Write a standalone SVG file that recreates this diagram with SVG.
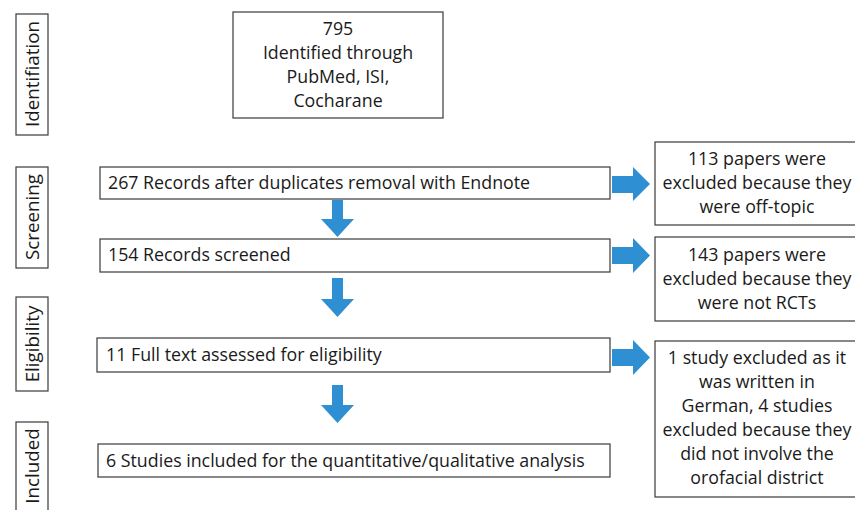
<svg xmlns="http://www.w3.org/2000/svg" width="855" height="510" viewBox="0 0 855 510">
<style>
.box{fill:#fff;stroke:#3a3a3a;stroke-width:1.2}
.t{font-family:"Open Sans","Liberation Sans",sans-serif;font-size:17.8px;fill:#1a1a1a}
.v{font-size:18.8px}
.c{text-anchor:middle}
.arr{fill:#2f8fd3}
</style>
<rect width="855" height="510" fill="#fff"/>
<g id="stage-identification"><rect class="box" x="16" y="14" width="32" height="121"/><text class="t v c" transform="translate(39,74) rotate(-90)">Identifiation</text></g>
<g id="stage-screening"><rect class="box" x="16" y="167" width="32" height="101"/><text class="t v c" transform="translate(39,217) rotate(-90)">Screening</text></g>
<g id="stage-eligibility"><rect class="box" x="16" y="297" width="32" height="94"/><text class="t v c" transform="translate(39,344) rotate(-90)">Eligibility</text></g>
<g id="stage-included"><rect class="box" x="16" y="422" width="32" height="100"/><text class="t v c" transform="translate(39,466) rotate(-90)">Included</text></g>

<g id="n795"><rect class="box" x="233" y="12" width="210" height="106"/>
<text class="t c" x="338" y="35">795</text>
<text class="t c" x="338" y="59">Identified through</text>
<text class="t c" x="338" y="83">PubMed, ISI,</text>
<text class="t c" x="338" y="107">Cocharane</text></g>

<g id="n267"><rect class="box" x="100" y="167" width="510" height="32"/><text class="t" x="108" y="189">267 Records after duplicates removal with Endnote</text></g>
<g id="n154"><rect class="box" x="100" y="239" width="510" height="33"/><text class="t" x="108" y="261">154 Records screened</text></g>
<g id="n11"><rect class="box" x="97" y="338" width="513" height="34"/><text class="t" x="106" y="361">11 Full text assessed for eligibility</text></g>
<g id="n6"><rect class="box" x="98" y="444" width="512" height="33"/><text class="t" x="106" y="467">6 Studies included for the quantitative/qualitative analysis</text></g>

<g id="x113"><rect class="box" x="655" y="142" width="205" height="83"/>
<text class="t c" x="757" y="165">113 papers were</text>
<text class="t c" x="757" y="189">excluded because they</text>
<text class="t c" x="757" y="213">were off-topic</text></g>
<g id="x143"><rect class="box" x="655" y="237" width="205" height="84"/>
<text class="t c" x="757" y="261">143 papers were</text>
<text class="t c" x="757" y="285">excluded because they</text>
<text class="t c" x="757" y="309">were not RCTs</text></g>
<g id="x1"><rect class="box" x="655" y="341" width="205" height="156"/>
<text class="t c" x="757" y="364">1 study excluded as it</text>
<text class="t c" x="757" y="388">was written in</text>
<text class="t c" x="757" y="412">German, 4 studies</text>
<text class="t c" x="757" y="436">excluded because they</text>
<text class="t c" x="757" y="460">did not involve the</text>
<text class="t c" x="757" y="484">orofacial district</text></g>

<g id="connectors">
<polygon class="arr" points="612,176 633,176 633,167 650,184 633,201 633,193 612,193"/>
<polygon class="arr" points="612,247 633,247 633,238 650,255.5 633,273 633,264 612,264"/>
<polygon class="arr" points="612,349 633,349 633,340 650,357.5 633,375 633,366 612,366"/>
<polygon class="arr" points="332,200 343,200 343,219 354,219 337.5,237 321,219 332,219"/>
<polygon class="arr" points="332,278 343,278 343,299 354,299 337.5,317 321,299 332,299"/>
<polygon class="arr" points="332,385 343,385 343,405 354,405 337.5,423 321,405 332,405"/>
</g>
</svg>
